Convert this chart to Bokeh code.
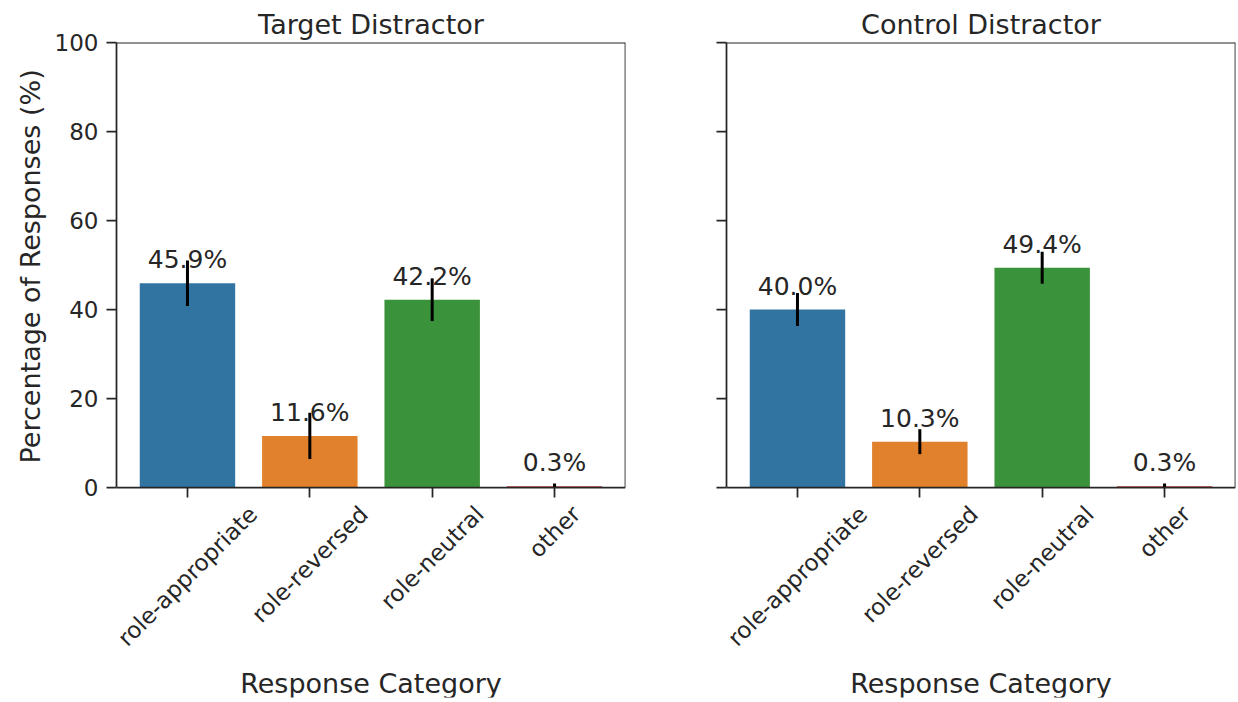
import numpy as np
from bokeh.plotting import figure
from bokeh.layouts import row
from bokeh.models import (Range1d, FixedTicker, ColumnDataSource, LabelSet,
                          LinearAxis, Title)
from bokeh.core.properties import value
from bokeh.embed import file_html
from bokeh.resources import INLINE

# ---- data -------------------------------------------------------------
categories = ["role-appropriate", "role-reversed", "role-neutral", "other"]
bar_colors = ["#3274a1", "#e1812c", "#3a923a", "#c03d3e"]

panel_titles = ["Target Distractor", "Control Distractor"]
target_pct = [45.9, 11.6, 42.2, 0.3]
target_err = [5.1, 5.2, 4.8, 0.6]
control_pct = [40.0, 10.3, 49.4, 0.3]
control_err = [3.7, 2.8, 3.6, 0.6]

y_ticks = [0, 20, 40, 60, 80, 100]
y_label = "Percentage of Responses (%)"
x_label = "Response Category"

# ---- styling / geometry ----------------------------------------------
FONT = "DejaVu Sans"
INK = "#262626"
TICK_FS = 23
LABEL_FS = 27
ANNOT_FS = 25

FIG_H = 702
TOP_PAD = 42          # space for the panel title
BOTTOM_PAD = 5
AXIS_PX = 445         # pixel length of the 0-100 value axis
# the frame continues below zero so the slanted category names have room
FRAME_H = FIG_H - TOP_PAD - BOTTOM_PAD
Y_START = 100 - FRAME_H * 100 / AXIS_PX

# DejaVu Sans advance widths (em) used to size and place rotated texts
ADV = {"r": 0.411, "o": 0.612, "l": 0.278, "e": 0.615, "-": 0.361, "a": 0.613,
       "p": 0.635, "i": 0.278, "t": 0.392, "v": 0.592, "s": 0.521, "d": 0.635,
       "n": 0.634, "u": 0.634, "h": 0.634, "P": 0.603, "c": 0.550, "g": 0.635,
       " ": 0.318, "f": 0.352, "R": 0.695, "(": 0.390, ")": 0.390, "%": 0.950}


def text_width(s, fs):
    return sum(ADV.get(c, 0.6) for c in s) * fs


def style_axis(ax):
    ax.axis_line_color = INK
    ax.axis_line_width = 1.75
    ax.major_tick_line_color = INK
    ax.major_tick_line_width = 1.75
    ax.major_tick_out = 10
    ax.major_tick_in = 0
    ax.minor_tick_line_color = None
    ax.major_label_text_font = FONT
    ax.major_label_text_font_size = f"{TICK_FS}px"
    ax.major_label_text_color = INK
    ax.axis_label_text_font = FONT
    ax.axis_label_text_font_size = f"{LABEL_FS}px"
    ax.axis_label_text_font_style = "normal"
    ax.axis_label_text_color = INK


def spine(p, side, loc, bounds):
    ax = LinearAxis(fixed_location=loc, bounds=bounds, ticker=FixedTicker(ticks=[]),
                    axis_line_color=INK, axis_line_width=1.75,
                    major_tick_line_color=None, minor_tick_line_color=None,
                    major_label_text_font_size="0px")
    p.add_layout(ax, side)


def make_panel(title, pct, err, left_labels, width, border_left, border_right):
    pos = np.arange(len(categories))
    x0, x1 = -0.58, len(categories) - 1 + 0.58
    p = figure(width=width, height=FIG_H, output_backend="svg", toolbar_location=None,
               x_range=Range1d(x0, x1), y_range=Range1d(Y_START, 100),
               x_axis_location=None,
               min_border_left=border_left, min_border_right=border_right,
               min_border_top=TOP_PAD, min_border_bottom=BOTTOM_PAD)
    p.background_fill_color = "white"
    p.border_fill_color = "white"
    p.xgrid.visible = False
    p.ygrid.visible = False
    p.outline_line_color = None

    p.title.text = title
    p.title.align = "center"
    p.title.text_font = FONT
    p.title.text_font_size = f"{LABEL_FS}px"
    p.title.text_font_style = "normal"
    p.title.text_color = INK
    p.title.standoff = 6

    src = ColumnDataSource(dict(
        x=pos, top=pct, color=bar_colors,
        lo=[max(v - e, 0) for v, e in zip(pct, err)],
        hi=[v + e for v, e in zip(pct, err)],
        label=[f"{v:.1f}%" for v in pct],
    ))
    p.vbar(x="x", top="top", bottom=0, width=0.78, fill_color="color",
           line_color=None, source=src)
    p.segment(x0="x", y0="lo", x1="x", y1="hi", line_color="black",
              line_width=3, source=src)

    p.add_layout(LabelSet(x="x", y="top", text="label", source=src,
                          text_align="center", text_baseline="alphabetic",
                          y_offset=15, text_font=value(FONT),
                          text_font_size=value(f"{ANNOT_FS}px"), text_color=INK))

    # value axis
    yax = p.yaxis[0]
    style_axis(yax)
    yax.bounds = (0, 100)
    yax.ticker = FixedTicker(ticks=y_ticks)
    yax.major_label_standoff = 8
    if left_labels:
        # axis title centred on the 0-100 span rather than on the whole frame
        lift = FRAME_H - AXIS_PX / 2 - text_width(y_label, LABEL_FS) / 2
        p.add_layout(Title(text=y_label, align="left", offset=lift, standoff=12,
                           text_font=FONT, text_font_size=f"{LABEL_FS}px",
                           text_font_style="normal", text_color=INK), "left")
    else:
        yax.major_label_overrides = {t: "" for t in y_ticks}

    # category axis sitting on zero
    xax = LinearAxis(fixed_location=0, ticker=FixedTicker(ticks=list(pos)),
                     major_label_overrides={int(i): "" for i in pos},
                     axis_label=x_label)
    style_axis(xax)
    xax.axis_label_standoff = 170
    p.add_layout(xax, "below")

    # remaining sides of the box
    spine(p, "above", 100, "auto")
    spine(p, "right", x1, (0, 100))

    # slanted category names, centred under each tick
    h = 1.164 * TICK_FS
    drop = [-(13 + 0.7071 * (text_width(c, TICK_FS) + h) / 2) for c in categories]
    cat_src = ColumnDataSource(dict(x=pos, y=[0] * len(pos), text=categories, yoff=drop))
    p.add_layout(LabelSet(x="x", y="y", text="text", y_offset="yoff", source=cat_src,
                          angle=np.pi / 4, text_align="center", text_baseline="middle",
                          text_font=value(FONT), text_font_size=value(f"{TICK_FS}px"),
                          text_color=INK))
    return p


left = make_panel(panel_titles[0], target_pct, target_err, True, 675, 116, 50)
right = make_panel(panel_titles[1], control_pct, control_err, False, 563, 51, 3)

layout = row(left, right)
open("out.html", "w").write(file_html(layout, INLINE))
